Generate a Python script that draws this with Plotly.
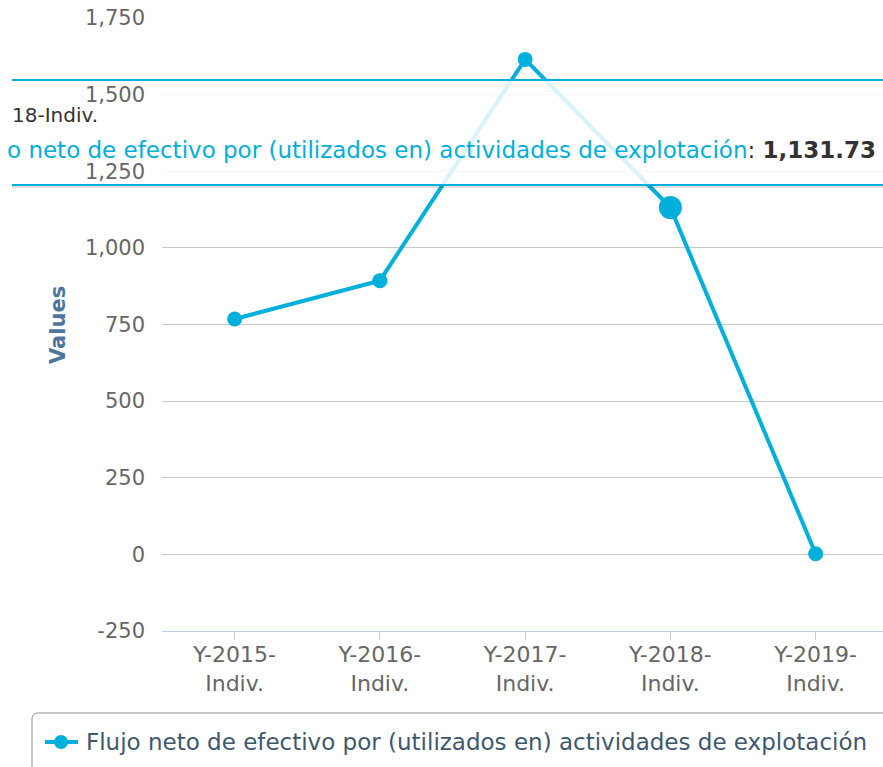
import plotly.graph_objects as go

# ---- data ----
categories = ["Y-2015-Indiv.", "Y-2016-Indiv.", "Y-2017-Indiv.", "Y-2018-Indiv.", "Y-2019-Indiv."]
tick_labels = ["Y-2015-<br>Indiv.", "Y-2016-<br>Indiv.", "Y-2017-<br>Indiv.", "Y-2018-<br>Indiv.", "Y-2019-<br>Indiv."]
series_name = "Flujo neto de efectivo por (utilizados en) actividades de explotación"
values = [768, 893, 1615, 1131.73, 2]
y_ticks = [-250, 0, 250, 500, 750, 1000, 1250, 1500, 1750]
hover_index = 3

# ---- layout geometry (pixels) ----
WIDTH, HEIGHT = 883, 767
L, R, T, B = 162, 883, 18, 631
PW, PH = R - L, B - T
BAND = 145.25

def px_x(x):
    return (x - L) / PW

def px_y(y):
    return (B - y) / PH

CYAN = "#00AFDB"
FONT = "DejaVu Sans"

sizes = [23 if i == hover_index else 15 for i in range(len(values))]

fig = go.Figure()
fig.add_trace(go.Scatter(
    x=list(range(len(categories))), y=values, name=series_name,
    mode="lines+markers",
    line=dict(color=CYAN, width=4),
    marker=dict(color=CYAN, size=sizes, opacity=1, line=dict(width=0)),
    hoverinfo="skip",
))

x_max = -0.5 + PW / BAND

fig.update_layout(
    width=WIDTH, height=HEIGHT,
    margin=dict(l=L, r=WIDTH - R, t=T, b=HEIGHT - B, pad=0),
    paper_bgcolor="white", plot_bgcolor="white",
    font=dict(family=FONT, color="#666666"),
    showlegend=False,
    xaxis=dict(
        range=[-0.5, x_max], tickmode="array",
        tickvals=list(range(len(categories))), ticktext=tick_labels,
        showgrid=False, zeroline=False,
        showline=True, linecolor="#C0D0E0", linewidth=1,
        ticks="outside", ticklen=8, tickcolor="#C0D0E0", tickwidth=1,
        tickson="boundaries", ticklabelstandoff=-4,
        tickfont=dict(size=22, color="#666666", family=FONT),
    ),
    yaxis=dict(
        range=[-250, 1750], tickmode="array", tickvals=y_ticks,
        ticktext=[f"{v:,}" for v in y_ticks],
        showgrid=True, gridcolor="#C8C8C8", gridwidth=1,
        zeroline=False, showline=False,
        ticks="", ticklabelstandoff=16,
        tickfont=dict(size=21, color="#666666", family=FONT),
    ),
)

shapes = []
# legend rounded box
lx0, lx1, ly0, ly1, r = 32, 900, 713, 780, 6
path = (f"M {px_x(lx0 + r)} {px_y(ly0)} L {px_x(lx1)} {px_y(ly0)} "
        f"L {px_x(lx1)} {px_y(ly1)} L {px_x(lx0)} {px_y(ly1)} "
        f"L {px_x(lx0)} {px_y(ly0 + r)} Q {px_x(lx0)} {px_y(ly0)} {px_x(lx0 + r)} {px_y(ly0)} Z")
shapes.append(dict(type="path", xref="paper", yref="paper", path=path,
                   line=dict(color="#909090", width=1), fillcolor="rgba(0,0,0,0)", layer="above"))

# legend symbol
shapes.append(dict(type="line", xref="paper", yref="paper",
                   x0=px_x(45), x1=px_x(78), y0=px_y(742), y1=px_y(742),
                   line=dict(color=CYAN, width=4), layer="above"))
shapes.append(dict(type="circle", xref="paper", yref="paper",
                   x0=px_x(54), x1=px_x(68), y0=px_y(749), y1=px_y(735),
                   fillcolor=CYAN, line=dict(color=CYAN, width=0), layer="above"))

# tooltip box
tb_top, tb_bot = 80, 185
shapes.append(dict(type="rect", xref="paper", yref="paper",
                   x0=px_x(L), x1=px_x(900), y0=px_y(tb_bot), y1=px_y(tb_top),
                   fillcolor="rgba(255,255,255,0.85)", line=dict(width=0), layer="above"))
shapes.append(dict(type="line", xref="paper", yref="paper",
                   x0=px_x(12), x1=px_x(900), y0=px_y(tb_bot + 2), y1=px_y(tb_bot + 2),
                   line=dict(color="rgba(0,0,0,0.12)", width=2), layer="above"))
for yy in (tb_top, tb_bot):
    shapes.append(dict(type="line", xref="paper", yref="paper",
                       x0=px_x(12), x1=px_x(900), y0=px_y(yy), y1=px_y(yy),
                       line=dict(color=CYAN, width=2), layer="above"))

annotations = [
    dict(text="Values", textangle=-90, xref="paper", yref="paper",
         x=px_x(58), y=px_y(325), xanchor="center", yanchor="middle", showarrow=False,
         font=dict(size=21, color="#4D759E", family=FONT, weight="bold")),
    dict(text=series_name, xref="paper", yref="paper",
         x=px_x(84), y=px_y(742), xanchor="left", yanchor="middle", showarrow=False,
         font=dict(size=23, color="#3E576F", family=FONT)),
    dict(text=categories[hover_index][4:], xref="paper", yref="paper",
         x=px_x(10), y=px_y(115), xanchor="left", yanchor="middle", showarrow=False,
         font=dict(size=20, color="#333333", family=FONT)),
    dict(text=(f"<span style='color:{CYAN}'>{series_name[4:]}</span>: "
               f"<b>{values[hover_index]:,.2f}</b>"),
         xref="paper", yref="paper",
         x=px_x(5), y=px_y(150), xanchor="left", yanchor="middle", showarrow=False,
         font=dict(size=23, color="#333333", family=FONT)),
]

fig.update_layout(shapes=shapes, annotations=annotations)
fig.write_html("out.html", config={"displayModeBar": False},
               post_script="document.body.style.margin='0';")
